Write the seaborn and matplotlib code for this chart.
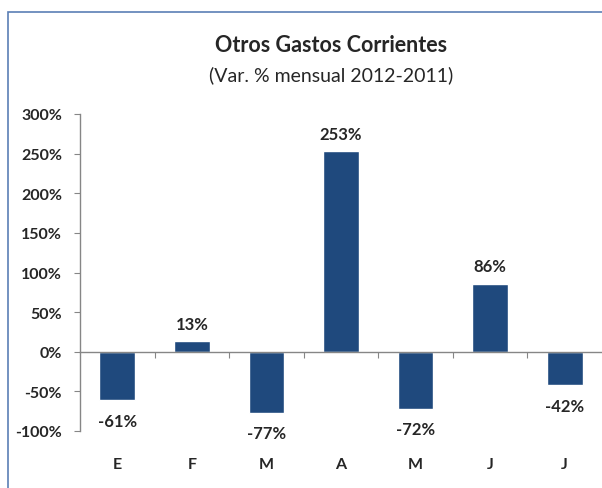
import pandas as pd
import matplotlib.pyplot as plt
import seaborn as sns
from matplotlib.patches import Rectangle
from matplotlib.ticker import FixedLocator

months = ["E", "F", "M", "A", "M", "J", "J"]
variacion = [-61, 13, -77, 253, -72, 86, -42]

sns.set_theme(style="white")
plt.rcParams['font.family'] = ['Lato', 'DejaVu Sans']

df = pd.DataFrame({"pos": range(len(months)), "mes": months, "var": variacion})

fig = plt.figure(figsize=(6.02, 4.89), dpi=100)
ax = fig.add_axes([80 / 602, 1 - 432 / 489, 522 / 602, (432 - 115) / 489])

sns.barplot(data=df, x="pos", y="var", color="#1F497D", width=0.48,
            saturation=1, ax=ax)

ax.set_ylim(-100, 300)
ax.set_xlim(-0.5, len(months) - 0.5)
ax.set_yticks(range(-100, 301, 50))
ax.set_yticklabels([f"{v}%" for v in range(-100, 301, 50)],
                   fontsize=11.5, fontweight="bold")
ax.tick_params(axis="y", length=4, width=0.8, color="#868686", pad=9, left=True)

# zero line with category separators
ax.spines["bottom"].set_position(("data", 0))
for s in ["top", "right"]:
    ax.spines[s].set_visible(False)
for s in ["left", "bottom"]:
    ax.spines[s].set_color("#868686")
    ax.spines[s].set_linewidth(1.0)
ax.set_xticks(range(len(months)))
ax.set_xticklabels(months, fontsize=11.5, fontweight="bold")
ax.xaxis.set_minor_locator(FixedLocator([i + 0.5 for i in range(len(months) - 1)]))
ax.tick_params(axis="x", which="major", length=0, pad=76)
ax.tick_params(axis="x", which="minor", length=4, width=0.8, color="#868686",
               direction="out", bottom=True)
ax.set_xlabel("")
ax.set_ylabel("")

for i, v in enumerate(variacion):
    if v >= 0:
        ax.annotate(f"{v}%", (i, v), xytext=(0, 7), textcoords="offset points",
                    ha="center", va="bottom", fontsize=12, fontweight="bold")
    else:
        ax.annotate(f"{v}%", (i, v), xytext=(0, -9), textcoords="offset points",
                    ha="center", va="top", fontsize=12, fontweight="bold")

fig.text(331 / 602, 1 - 45 / 489, "Otros Gastos Corrientes", ha="center",
         va="center", fontsize=15.5, fontweight="bold")
fig.text(331 / 602, 1 - 75 / 489, "(Var. % mensual 2012-2011)", ha="center",
         va="center", fontsize=14)

# chart area frame (cut at right and bottom)
fig.patches.append(Rectangle((8 / 602, -0.1), 1.2, 1 - 13 / 489 + 0.1,
                             transform=fig.transFigure, fill=False,
                             edgecolor="#5B7FB5", linewidth=1.2))

fig.savefig("out.png", dpi=100)
